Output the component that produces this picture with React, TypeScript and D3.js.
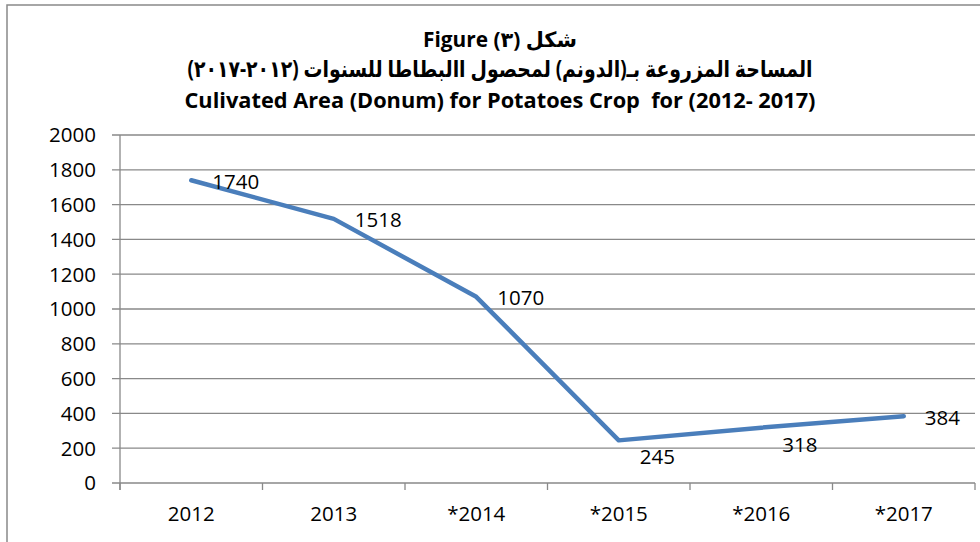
import React from "react";
import * as d3 from "d3";

const categories = ["2012", "2013", "*2014", "*2015", "*2016", "*2017"];
const values = [1740, 1518, 1070, 245, 318, 384];
const yTicks = [0, 200, 400, 600, 800, 1000, 1200, 1400, 1600, 1800, 2000];
const labelPlacement = ["right", "right", "right", "below", "below", "right"];
const titleLines = [
  "Figure (٣) شكل",
  "المساحة المزروعة بـ(الدونم) لمحصول االبطاطا للسنوات (٢٠١٢-٢٠١٧)",
  "Culivated Area (Donum) for Potatoes Crop  for (2012- 2017)",
];

const W = 980;
const H = 542;
const left = 120;
const right = 975;
const top = 135;
const bottom = 483;
const FONT = "'Open Sans', 'DejaVu Sans', sans-serif";
const GRID = "#898989";
const BLUE = "#4A7EBB";

export default function App() {
  const x = d3.scaleBand<string>().domain(categories).range([left, right]);
  const y = d3.scaleLinear().domain([0, 2000]).range([bottom, top]);
  const cx = (c: string) => (x(c) as number) + x.bandwidth() / 2;
  const line = d3
    .line<number>()
    .x((_, i) => cx(categories[i]))
    .y((v) => y(v));
  const boundaries = categories.map((c) => x(c) as number).concat([right]);

  const titleSpecs = [
    { y: 47, len: 154, dir: "ltr", size: 21 },
    { y: 77, len: 625, dir: "rtl", size: 23 },
    { y: 108, len: 631, dir: "ltr", size: 21 },
  ];

  return (
    <svg
      width={W}
      height={H}
      style={{ position: "absolute", left: 0, top: 0, background: "#fff" }}
    >
      <rect x={7} y={5} width={W + 10} height={H + 10} fill="#fff" stroke={GRID} strokeWidth={1.5} />
      {titleLines.map((t, i) => (
        <text
          key={i}
          x={500}
          y={titleSpecs[i].y}
          textAnchor="middle"
          fontFamily={FONT}
          fontWeight="bold"
          fontSize={titleSpecs[i].size}
          direction={titleSpecs[i].dir as any}
          textLength={titleSpecs[i].len}
          lengthAdjust="spacingAndGlyphs"
          style={{ whiteSpace: "pre" }}
          fill="#000"
        >
          {t}
        </text>
      ))}
      {yTicks.map((t) => (
        <g key={t}>
          <line x1={112} x2={right} y1={y(t)} y2={y(t)} stroke={GRID} strokeWidth={1.3} />
          <text
            x={96}
            y={y(t)}
            dy="0.36em"
            textAnchor="end"
            fontFamily={FONT}
            fontSize={20.5}
            fill="#000"
          >
            {t}
          </text>
        </g>
      ))}
      <line x1={left} x2={left} y1={top} y2={bottom + 7} stroke={GRID} strokeWidth={1.3} />
      {boundaries.map((b, i) => (
        <line key={i} x1={b} x2={b} y1={bottom} y2={bottom + 7} stroke={GRID} strokeWidth={1.3} />
      ))}
      {categories.map((c) => (
        <text
          key={c}
          x={cx(c)}
          y={521}
          textAnchor="middle"
          fontFamily={FONT}
          fontSize={20.5}
          fill="#000"
        >
          {c}
        </text>
      ))}
      <path
        d={line(values) || ""}
        fill="none"
        stroke={BLUE}
        strokeWidth={4.5}
        strokeLinejoin="round"
        strokeLinecap="round"
      />
      {values.map((v, i) => (
        <text
          key={i}
          x={cx(categories[i]) + 21}
          y={y(v) + (labelPlacement[i] === "below" ? 24 : 8.5)}
          fontFamily={FONT}
          fontSize={20.5}
          fill="#000"
        >
          {v}
        </text>
      ))}
    </svg>
  );
}
